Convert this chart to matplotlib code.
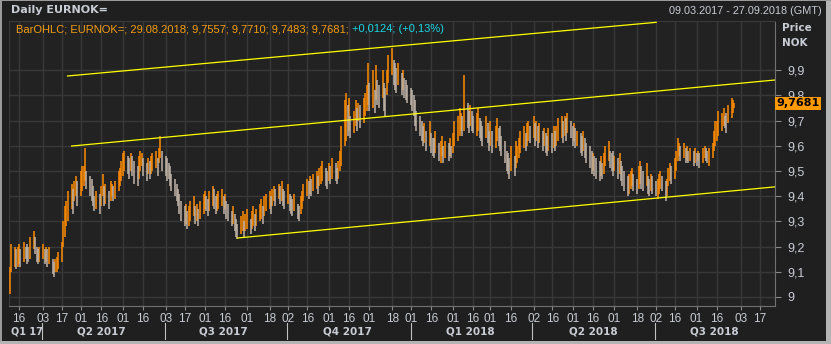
import numpy as np
import pandas as pd
import matplotlib
matplotlib.use("Agg")
import matplotlib.pyplot as plt
import matplotlib.dates as mdates
from matplotlib.patches import Rectangle

# daily EURNOK bars, one entry per business day 09.03.2017 .. 29.08.2018
lows = [
    9.01, 9.10, 9.12, 9.11, 9.12,  9.13, 9.12, 9.14, 9.15, 9.13,  9.14, 9.15, 9.19, 9.17, 9.14,
    9.13, 9.14, 9.15, 9.13, 9.14,  9.12, 9.13, 9.09, 9.08, 9.10,  9.10, 9.11, 9.14, 9.20, 9.24,
    9.28, 9.30, 9.35, 9.33, 9.38,  9.40, 9.36, 9.40, 9.42, 9.44,  9.46, 9.43, 9.40, 9.38, 9.36,
    9.34, 9.35, 9.33, 9.36, 9.40,  9.36, 9.37, 9.35, 9.38, 9.40,  9.38, 9.39, 9.42, 9.44, 9.46,
    9.48, 9.50, 9.49, 9.47, 9.50,  9.48, 9.45, 9.44, 9.47, 9.50,  9.52, 9.48, 9.46, 9.49, 9.47,
    9.49, 9.50, 9.51, 9.48, 9.53,  9.55, 9.50, 9.48, 9.46, 9.47,  9.44, 9.42, 9.40, 9.38, 9.36,
    9.33, 9.30, 9.28, 9.29, 9.27,  9.28, 9.30, 9.32, 9.29, 9.30,  9.28, 9.31, 9.33, 9.35, 9.34,
    9.32, 9.34, 9.36, 9.35, 9.33,  9.34, 9.35, 9.36, 9.33, 9.35,  9.31, 9.30, 9.28, 9.29, 9.26,
    9.24, 9.23, 9.25, 9.26, 9.24,  9.26, 9.27, 9.25, 9.27, 9.28,  9.26, 9.28, 9.30, 9.31, 9.29,
    9.32, 9.34, 9.35, 9.33, 9.36,  9.38, 9.36, 9.39, 9.37, 9.38,  9.36, 9.35, 9.37, 9.34, 9.33,
    9.32, 9.34, 9.31, 9.30, 9.33,  9.35, 9.38, 9.40, 9.39, 9.41,  9.40, 9.42, 9.43, 9.41, 9.44,
    9.45, 9.46, 9.44, 9.43, 9.46,  9.45, 9.47, 9.46, 9.45, 9.47,  9.50, 9.52, 9.60, 9.62, 9.64,
    9.66, 9.63, 9.65, 9.68, 9.66,  9.70, 9.67, 9.69, 9.72, 9.74,  9.76, 9.74, 9.75, 9.73, 9.78,
    9.76, 9.75, 9.79, 9.74, 9.72,  9.80, 9.85, 9.88, 9.84, 9.82,  9.81, 9.84, 9.80, 9.82, 9.79,
    9.78, 9.77, 9.76, 9.74, 9.72,  9.68, 9.66, 9.64, 9.62, 9.60,  9.61, 9.58, 9.60, 9.57, 9.56,
    9.55, 9.57, 9.54, 9.53, 9.56,  9.53, 9.55, 9.54, 9.56, 9.55,  9.57, 9.60, 9.62, 9.64, 9.66,
    9.64, 9.66, 9.67, 9.65, 9.68,  9.66, 9.65, 9.64, 9.66, 9.63,  9.62, 9.60, 9.63, 9.61, 9.58,
    9.60, 9.57, 9.59, 9.62, 9.60,  9.58, 9.56, 9.53, 9.50, 9.49,  9.47, 9.50, 9.48, 9.51, 9.53,
    9.55, 9.57, 9.59, 9.58, 9.60,  9.62, 9.61, 9.63, 9.60, 9.62,  9.59, 9.61, 9.58, 9.60, 9.57,
    9.56, 9.58, 9.57, 9.59, 9.58,  9.60, 9.62, 9.63, 9.61, 9.64,  9.62, 9.65, 9.63, 9.60, 9.62,
    9.59, 9.60, 9.57, 9.56, 9.58,  9.55, 9.53, 9.51, 9.49, 9.50,  9.48, 9.47, 9.46, 9.48, 9.47,
    9.49, 9.52, 9.54, 9.51, 9.50,  9.48, 9.50, 9.47, 9.49, 9.46,  9.44, 9.42, 9.40, 9.41, 9.43,
    9.44, 9.42, 9.41, 9.43, 9.45,  9.43, 9.42, 9.44, 9.41, 9.40,  9.42, 9.41, 9.40, 9.39, 9.41,
    9.43, 9.42, 9.38, 9.40, 9.44,  9.46, 9.45, 9.47, 9.50, 9.54,  9.56, 9.54, 9.55, 9.53, 9.54,
    9.53, 9.54, 9.52, 9.53, 9.52,  9.54, 9.51, 9.53, 9.55, 9.54,  9.53, 9.52, 9.55, 9.58, 9.60,
    9.62, 9.64, 9.66, 9.68, 9.67,  9.65, 9.69, 9.71, 9.73, 9.7483,
]
highs = [
    9.12, 9.21, 9.20, 9.19, 9.20,  9.21, 9.19, 9.22, 9.20, 9.21,  9.20, 9.24, 9.26, 9.24, 9.20,
    9.19, 9.20, 9.21, 9.19, 9.20,  9.19, 9.20, 9.15, 9.14, 9.15,  9.16, 9.18, 9.22, 9.30, 9.36,
    9.38, 9.42, 9.45, 9.43, 9.46,  9.48, 9.46, 9.50, 9.52, 9.52,  9.59, 9.50, 9.48, 9.47, 9.44,
    9.40, 9.42, 9.41, 9.44, 9.49,  9.44, 9.45, 9.42, 9.46, 9.45,  9.44, 9.46, 9.50, 9.51, 9.54,
    9.57, 9.58, 9.56, 9.55, 9.57,  9.56, 9.54, 9.52, 9.56, 9.58,  9.57, 9.55, 9.53, 9.55, 9.54,
    9.56, 9.57, 9.58, 9.55, 9.59,  9.64, 9.58, 9.56, 9.55, 9.53,  9.52, 9.49, 9.47, 9.45, 9.43,
    9.41, 9.38, 9.36, 9.37, 9.34,  9.36, 9.38, 9.40, 9.36, 9.37,  9.35, 9.38, 9.41, 9.42, 9.40,
    9.39, 9.42, 9.44, 9.43, 9.40,  9.41, 9.42, 9.43, 9.40, 9.41,  9.38, 9.37, 9.34, 9.36, 9.33,
    9.31, 9.29, 9.32, 9.34, 9.30,  9.33, 9.35, 9.31, 9.34, 9.36,  9.33, 9.35, 9.37, 9.39, 9.36,
    9.40, 9.41, 9.42, 9.40, 9.43,  9.44, 9.43, 9.45, 9.44, 9.46,  9.43, 9.42, 9.45, 9.41, 9.40,
    9.39, 9.41, 9.37, 9.36, 9.40,  9.42, 9.45, 9.47, 9.46, 9.48,  9.47, 9.49, 9.50, 9.48, 9.51,
    9.52, 9.54, 9.51, 9.50, 9.53,  9.52, 9.55, 9.53, 9.51, 9.54,  9.58, 9.68, 9.78, 9.81, 9.76,
    9.79, 9.72, 9.74, 9.78, 9.75,  9.77, 9.76, 9.79, 9.81, 9.84,  9.93, 9.85, 9.90, 9.82, 9.92,
    9.86, 9.84, 9.90, 9.85, 9.83,  9.90, 9.96, 9.99, 9.94, 9.93,  9.91, 9.93, 9.89, 9.90, 9.87,
    9.86, 9.84, 9.83, 9.82, 9.80,  9.78, 9.74, 9.72, 9.70, 9.68,  9.69, 9.66, 9.70, 9.65, 9.63,
    9.63, 9.66, 9.61, 9.62, 9.64,  9.60, 9.62, 9.61, 9.63, 9.60,  9.65, 9.70, 9.72, 9.75, 9.73,
    9.72, 9.88, 9.77, 9.74, 9.76,  9.74, 9.72, 9.73, 9.75, 9.71,  9.70, 9.68, 9.72, 9.69, 9.66,
    9.70, 9.66, 9.68, 9.71, 9.67,  9.68, 9.64, 9.62, 9.58, 9.57,  9.55, 9.60, 9.56, 9.62, 9.60,
    9.63, 9.66, 9.68, 9.65, 9.69,  9.70, 9.68, 9.72, 9.69, 9.70,  9.68, 9.69, 9.66, 9.67, 9.65,
    9.64, 9.67, 9.65, 9.68, 9.66,  9.68, 9.71, 9.72, 9.70, 9.72,  9.71, 9.73, 9.70, 9.68, 9.69,
    9.67, 9.66, 9.65, 9.64, 9.66,  9.63, 9.61, 9.60, 9.58, 9.57,  9.56, 9.55, 9.54, 9.56, 9.53,
    9.57, 9.60, 9.62, 9.58, 9.57,  9.58, 9.56, 9.55, 9.57, 9.54,  9.52, 9.50, 9.48, 9.49, 9.50,
    9.51, 9.49, 9.47, 9.52, 9.54,  9.52, 9.50, 9.53, 9.48, 9.47,  9.49, 9.48, 9.46, 9.47, 9.49,
    9.50, 9.48, 9.46, 9.47, 9.51,  9.53, 9.52, 9.55, 9.58, 9.63,  9.61, 9.60, 9.61, 9.59, 9.60,
    9.58, 9.59, 9.58, 9.59, 9.57,  9.58, 9.57, 9.59, 9.60, 9.59,  9.58, 9.59, 9.61, 9.66, 9.70,
    9.70, 9.74, 9.73, 9.75, 9.72,  9.73, 9.76, 9.79, 9.78, 9.7710,
]
days = pd.bdate_range("2017-03-09", "2018-08-29")

# trend channel lines drawn on the chart (start date, start, end date, end)
trend_lines = [
    ("2017-04-21", 9.877, "2018-07-02", 10.09),
    ("2017-04-24", 9.599, "2018-09-28", 9.861),
    ("2017-08-25", 9.234, "2018-09-28", 9.437),
]

tick_dates = ["2017-03-16", "2017-04-03", "2017-04-17", "2017-05-01", "2017-05-16",
              "2017-06-01", "2017-06-16", "2017-07-03", "2017-07-17", "2017-08-01",
              "2017-08-16", "2017-09-01", "2017-09-18", "2017-10-02", "2017-10-16",
              "2017-11-01", "2017-11-16", "2017-12-01", "2017-12-18", "2018-01-01",
              "2018-01-16", "2018-02-01", "2018-02-16", "2018-03-01", "2018-03-16",
              "2018-04-02", "2018-04-16", "2018-05-01", "2018-05-16", "2018-06-01",
              "2018-06-18", "2018-07-02", "2018-07-16", "2018-08-01", "2018-08-16",
              "2018-09-03", "2018-09-17"]
quarter_starts = ["2017-04-02", "2017-07-02", "2017-10-01", "2018-01-01", "2018-04-01", "2018-07-01"]
quarter_labels = ["Q2 2017", "Q3 2017", "Q4 2017", "Q1 2018", "Q2 2018", "Q3 2018"]
quarter_mid = ["2017-05-16", "2017-08-15", "2017-11-15", "2018-02-14", "2018-05-16", "2018-08-14"]
price_ticks = [9.0, 9.1, 9.2, 9.3, 9.4, 9.5, 9.6, 9.7, 9.8, 9.9]
last_price = 9.7681

BG = "#222222"
GRID = "#383838"
TXT = "#c8ccd4"
ORANGE = "#ff8c00"
LIGHT = "#c0b4a8"

W, H = 831, 344
fig = plt.figure(figsize=(W / 100, H / 100), dpi=100, facecolor="#1f1f1f")
L, R, T, B = 9, 775, 21, 306
ax = fig.add_axes([L / W, 1 - B / H, (R - L) / W, (B - T) / H])
ax.set_facecolor(BG)

x = mdates.date2num(days)
lo = np.array(lows)
hi = np.array(highs)
mid = (lo + hi) / 2
up = np.r_[True, mid[1:] >= mid[:-1]]
ax.vlines(x[up], lo[up], hi[up], color=ORANGE, lw=1.1, zorder=3)
ax.vlines(x[~up], lo[~up], hi[~up], color=LIGHT, lw=1.1, zorder=3)

for d0, v0, d1, v1 in trend_lines:
    ax.plot(mdates.date2num([pd.Timestamp(d0), pd.Timestamp(d1)]), [v0, v1],
            color="#ffff00", lw=0.9, zorder=4)

x0 = mdates.date2num(pd.Timestamp("2017-03-09")) - 0.45
ax.set_xlim(x0, x0 + (R - L) / 1.347)
ax.set_ylim(9 - 9 / 252, 9 + 276 / 252)

tk = mdates.date2num(pd.to_datetime(tick_dates))
ax.set_xticks(tk)
ax.set_xticklabels([d[-2:] for d in tick_dates])
ax.set_yticks(price_ticks)
ax.set_yticklabels([("%g" % v).replace(".", ",") for v in price_ticks])
ax.yaxis.tick_right()
ax.tick_params(axis="x", colors="#888888", labelcolor=TXT, length=3, pad=2, labelsize=8.5)
ax.tick_params(axis="y", colors="#888888", labelcolor=TXT, length=4, pad=5, labelsize=9)
for lab in ax.get_xticklabels() + ax.get_yticklabels():
    lab.set_family("Liberation Sans")
ax.grid(True, color=GRID, lw=1.0)
ax.set_axisbelow(True)
for s in ["top", "left"]:
    ax.spines[s].set_color("#3a3a3a")
for s in ["bottom", "right"]:
    ax.spines[s].set_color("#707070")

# quarter row
for q in quarter_starts:
    xq = mdates.date2num(pd.Timestamp(q))
    ax.plot([xq, xq], [-0.06, -0.115], transform=ax.get_xaxis_transform(),
            color="#c0c0c0", lw=0.8, clip_on=False)
for lab, m in zip(quarter_labels, quarter_mid):
    ax.text(mdates.date2num(pd.Timestamp(m)), -0.09, lab, transform=ax.get_xaxis_transform(),
            ha="center", va="center", color=TXT, fontsize=7.5, fontweight="bold")
ax.text(0.003, -0.09, "Q1 17", transform=ax.transAxes, ha="left", va="center",
        color=TXT, fontsize=7, fontweight="bold")

# header texts
fig.text(11 / W, 1 - 10 / H, "Daily EURNOK=", color=TXT, fontsize=8, fontweight="bold",
         va="center", ha="left")
fig.text(822 / W, 1 - 11 / H, "09.03.2017 - 27.09.2018 (GMT)", color=TXT, fontsize=7.8,
         va="center", ha="right", family="Liberation Sans")
t1 = ax.text(16 / W, 1 - 29 / H, "BarOHLC; EURNOK=; 29.08.2018; 9,7557; 9,7710; 9,7483; 9,7681; ",
             transform=fig.transFigure, color="#f39c12", fontsize=8.0, va="center", ha="left",
             family="Liberation Sans")
fig.canvas.draw()
bb = t1.get_window_extent()
fig.text(bb.x1 / W, 1 - 29 / H, "+0,0124; (+0,13%)", color="#18d8e8", fontsize=8.0,
         va="center", ha="left", family="Liberation Sans")
fig.text(782 / W, 1 - 28 / H, "Price", color=TXT, fontsize=7.5, fontweight="bold", va="center")
fig.text(782 / W, 1 - 43 / H, "NOK", color=TXT, fontsize=7.5, fontweight="bold", va="center")

# last price marker
ax.annotate(("%.4f" % last_price).replace(".", ","), xy=(1.0, last_price),
            xycoords=("axes fraction", "data"), xytext=(1, 0), textcoords="offset points",
            ha="left", va="center", fontsize=8, fontweight="bold", color="black",
            bbox=dict(boxstyle="square,pad=0.15", fc="#ff9900", ec="none"), annotation_clip=False)

# window frame
fig.patches.append(Rectangle((0, 0), 2 / W, 1, transform=fig.transFigure, fc="#9a9a9a", ec="none"))
fig.patches.append(Rectangle((826 / W, 0), 5 / W, 1, transform=fig.transFigure, fc="#b4b4b4", ec="none"))
fig.patches.append(Rectangle((0, 0), 1, 3 / H, transform=fig.transFigure, fc="#b4b4b4", ec="none"))
fig.patches.append(Rectangle((0, 1 - 1 / H), 1, 1 / H, transform=fig.transFigure, fc="#9a9a9a", ec="none"))

fig.savefig("out.png", dpi=100, facecolor=fig.get_facecolor())
